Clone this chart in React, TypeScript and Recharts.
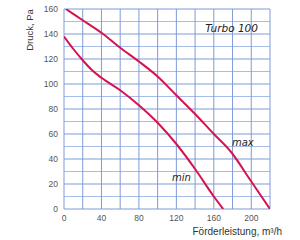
import React from 'react';
import { LineChart, Line, XAxis, YAxis, ReferenceLine, ReferenceDot } from 'recharts';

const maxX = [2, 20, 40, 60, 80, 100, 120, 140, 160, 178, 200, 220];
const maxY = [160, 151, 141, 129, 118, 106, 91, 76, 60, 46, 22, 0];
const minX = [0, 10, 20, 30, 40, 60, 80, 100, 120, 140, 160, 170];
const minY = [138, 128, 119, 111, 105, 95, 83, 69, 52, 32, 10, 0];

const xTicks = [0, 40, 80, 120, 160, 200];
const yTicks = [0, 20, 40, 60, 80, 100, 120, 140, 160];
const xGrid = [0, 20, 40, 60, 80, 100, 120, 140, 160, 180, 200, 220];
const yGridMajor = [0, 20, 40, 60, 80, 100, 120, 140, 160];
const yGridMinor = [10, 30, 50, 70, 90, 110, 130, 150];

const annotations = [
  { x: 179, y: 144.5, text: 'Turbo 100', size: 10.5 },
  { x: 191, y: 53, text: 'max', size: 10 },
  { x: 125.5, y: 25, text: 'min', size: 10 },
];

const maxData = maxX.map((x, i) => ({ x, v: maxY[i] }));
const minData = minX.map((x, i) => ({ x, v: minY[i] }));

const RED = '#d4134f';
const GRID = '#7f9bd8';
const GRID_MINOR = '#a7bce9';
const tickStyle = { fontSize: 8.5, fill: '#555', fontFamily: 'Liberation Sans, Arial, sans-serif' };

export default function App() {
  return (
    <div style={{ position: 'absolute', left: 0, top: 0, width: 300, height: 240, background: '#fff' }}>
      <LineChart width={300} height={240} margin={{ top: 9, right: 30, left: 0, bottom: 0 }}>
        <XAxis
          type="number"
          dataKey="x"
          domain={[0, 220]}
          ticks={xTicks}
          axisLine={false}
          tickLine={false}
          tickSize={4}
          tickMargin={2}
          height={31}
          tick={tickStyle}
          allowDataOverflow
        />
        <YAxis
          type="number"
          domain={[0, 160]}
          ticks={yTicks}
          axisLine={false}
          tickLine={false}
          tickSize={4}
          tickMargin={2}
          width={64}
          tick={tickStyle}
          allowDataOverflow
        />
        {yGridMinor.map((v) => (
          <ReferenceLine key={'ym' + v} y={v} stroke={GRID_MINOR} strokeWidth={1} />
        ))}
        {xGrid.map((v) => (
          <ReferenceLine key={'x' + v} x={v} stroke={GRID} strokeWidth={1} />
        ))}
        {yGridMajor.map((v) => (
          <ReferenceLine key={'y' + v} y={v} stroke={GRID} strokeWidth={1} />
        ))}
        <Line
          data={maxData}
          dataKey="v"
          type="monotone"
          stroke={RED}
          strokeWidth={2}
          dot={false}
          isAnimationActive={false}
        />
        <Line
          data={minData}
          dataKey="v"
          type="monotone"
          stroke={RED}
          strokeWidth={2}
          dot={false}
          isAnimationActive={false}
        />
        {annotations.map((a) => (
          <ReferenceDot
            key={a.text}
            x={a.x}
            y={a.y}
            r={1}
            fill="none"
            stroke="none"
            label={{
              value: a.text,
              position: 'center',
              fontSize: a.size,
              fontStyle: 'italic',
              fill: '#222',
              fontFamily: 'DejaVu Sans, sans-serif',
            }}
          />
        ))}
      </LineChart>
      <svg width={300} height={240} style={{ position: 'absolute', left: 0, top: 0, pointerEvents: 'none' }}>
        <text
          x={282}
          y={235}
          textAnchor="end"
          fontSize={10}
          fill="#333"
          fontFamily="Liberation Sans, Arial, sans-serif"
        >
          Förderleistung, m³/h
        </text>
        <text
          transform="translate(33,30) rotate(-90)"
          textAnchor="middle"
          fontSize={9.5}
          fill="#333"
          fontFamily="Liberation Sans, Arial, sans-serif"
        >
          Druck, Pa
        </text>
      </svg>
    </div>
  );
}
